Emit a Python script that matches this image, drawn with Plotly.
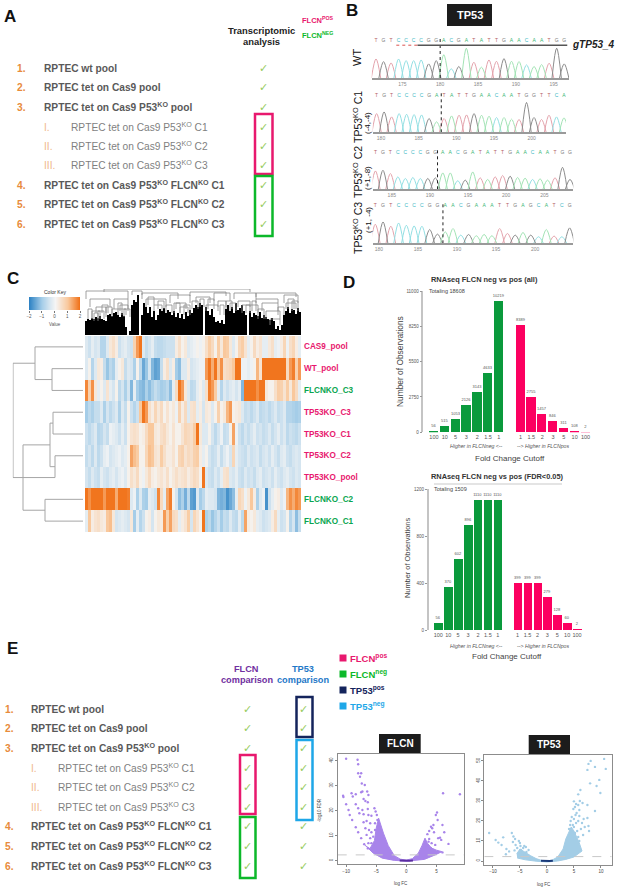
import numpy as np
import plotly.graph_objects as go

W, H = 617, 889
FONT = "Liberation Sans"
PINK = "#e8186e"
GREEN = "#0cb82a"
ORANGE = "#e88b3c"
GRAY = "#595959"
CHECK = "#96cb5e"

# ---- panel A / E sample lists
sample_marks = ["1.", "2.", "3.", "I.", "II.", "III.", "4.", "5.", "6."]
sample_names = ["RPTEC wt pool", "RPTEC tet on Cas9 pool", "RPTEC tet on Cas9 P53<sup>KO</sup> pool",
                "RPTEC tet on Cas9 P53<sup>KO</sup> C1", "RPTEC tet on Cas9 P53<sup>KO</sup> C2",
                "RPTEC tet on Cas9 P53<sup>KO</sup> C3", "RPTEC tet on Cas9 P53<sup>KO</sup> FLCN<sup>KO</sup> C1",
                "RPTEC tet on Cas9 P53<sup>KO</sup> FLCN<sup>KO</sup> C2", "RPTEC tet on Cas9 P53<sup>KO</sup> FLCN<sup>KO</sup> C3"]
a_rows = [68, 87, 107, 127, 146, 165, 185, 204, 224]
e_rows = [709, 728, 748, 768, 787, 807, 826, 846, 866]

# ---- panel B chromatograms: bases and peak heights
wt_bases = list("TGTCCCCGGACGATATTGAACAATGG")
wt_peaks = [58, 50, 46, 58, 53, 53, 55, 43, 53, 71, 28, 35, 91, 48, 33, 55, 51, 59, 51, 50, 40, 35, 41, 45, 91, 43]
c1_bases = list("TGTCCCCGATATTGAACAATGGTTCA")
c1_peaks = [57, 62, 47, 57, 55, 54, 53, 42, 32, 42, 50, 52, 53, 57, 52, 49, 45, 45, 40, 39, 91, 45, 39, 52, 47, 44]
c2_bases = list("TGTCCCCGGAACGATATTGAACAATGG")
c2_peaks = [56, 58, 48, 38, 33, 36, 33, 33, 35, 50, 50, 26, 28, 53, 35, 30, 38, 42, 40, 36, 34, 30, 32, 28, 35, 67, 30]
c3_bases = list("TGTCCCCGGAACGAAATTGAGCATCG")
c3_peaks = [58, 65, 52, 62, 55, 53, 52, 42, 28, 35, 45, 25, 27, 23, 27, 23, 45, 30, 25, 33, 25, 20, 42, 22, 20, 47]
base_line = {"T": "#e3a3ac", "C": "#93dfe3", "G": "#8c8c8c", "A": "#a3e3b5"}
base_text = {"T": "#b55f66", "C": "#3bb8c4", "G": "#777777", "A": "#3cb674"}

# ---- panel C heatmap (rows top to bottom, z score per gene block)
heat_rows = ["CAS9_pool", "WT_pool", "FLCNKO_C3", "TP53KO_C3", "TP53KO_C1", "TP53KO_C2", "TP53KO_pool", "FLCNKO_C2", "FLCNKO_C1"]
heat_colors = [PINK, PINK, "#0aa650", PINK, PINK, PINK, PINK, "#0aa650", "#0aa650"]
cas9_pool = [-.3, -.5, -.2, -.4, -.3, -.8, -.8, -.3, .3, .5, .2, -.5,
             -.3, -.2, -.4, -.5, .8, 1.5, 1.9, -.3, -.6, -.4, -.2, -.6,
             -.7, -.7, -.6, -.5, -.5, -.5, .2, .5, .1, .3, -.3, -.2,
             -.1, .1, -.1, .1, .5, .9, .6, .1, .9, .3, 1, .9,
             .3, -.3, .1, .7, .9, .4, -.2, .1, .6, .2, .4, -.2,
             -.2, .3, .5, -.2, -.1, .2, .7, -.1, .5, .7, .2, -.2]
wt_pool = [-.3, .1, -.8, -.3, .3, .2, -.6, -1.1, -.7, -.9, -.2, .1,
           .3, -.6, -.3, -.4, -.9, .1, -.7, -1.5, -1.1, -.4, -1.3, -1.6,
           -1.5, -.6, .2, .5, -.3, .2, -1, -1.2, -.3, -.3, .2, -.4,
           -.3, -.2, -.1, -.1, 1.5, 1.9, 1.3, 1.9, 1.0, 1.6, .5, .6,
           .7, 1.0, 1.9, 1.9, -.1, -.1, -.2, -.1, .1, 1.2, .4, 1.9,
           1.9, 1.9, 1.9, 1.9, 1.9, 1.9, 1.9, .6, 1.5, 1.8, .8, 1.5]
flcnko_c3 = [1.7, .8, 1.6, .3, -.2, .1, -.3, .4, -.2, -.4, .1, -.7,
             -.4, -.9, -.4, -1.3, -.2, -1.0, -1.2, -1.3, -.9, -1.2, -.9, -.6,
             -.8, -1, -.9, -.7, -1.2, -.2, .6, 1.9, 1.5, .3, -.3, -.7,
             -.6, -.2, .1, -.3, .5, 1.8, 1.5, .9, -.2, -.8, -.3, -.5,
             -.3, -.2, -.4, -.2, -1.3, 1.9, 1.9, 1.9, 1.9, 1.6, 1.9, 1.9,
             .3, .1, .1, .5, .9, .8, .4, .9, .3, 1.0, .6, -.2]
tp53ko_c3 = [-1, -.7, -.9, -.6, -.6, -.3, -.9, -.4, -.7, -.5, -.3, -.9,
             -.3, -.6, .1, -.5, -.8, -.5, 1.0, 1.9, 1.5, .5, .2, .7,
             .3, .6, .1, .4, .1, .3, -.1, .8, .2, .6, -.3, .4,
             .5, -.2, .2, -.4, .3, .2, -.3, .1, .8, .1, .3, 1.2,
             1.5, .1, .2, .3, -.3, -.6, -.5, -.7, -.5, -.3, -.7, -.6,
             -.5, -.7, -.5, -.3, -.6, -.5, -.3, -.8, -.8, -.9, -1, -.9]
tp53ko_c1 = [-.5, -.7, -.5, -.3, -.8, -.7, -.4, -.6, -.1, -.2, -.3, -.5,
             -.2, -.5, .1, .4, .5, .4, .1, .2, .6, 1.0, 1.0, .3,
             .2, .5, .6, .3, .1, .4, .1, .1, .4, .7, .6, .5,
             .9, 1.9, .3, -.3, -.3, .1, -.4, -.7, -.4, -.1, -.6, -.5,
             .1, 1.4, -.1, -.5, -.7, -.4, -.6, -.4, -.2, -.5, -.4, -.6,
             -.5, -.3, -.6, -.4, -.2, -.5, -.3, -.7, -.5, -.6, -.7, -.5]
tp53ko_c2 = [-.6, -.4, -.7, -.3, -.7, -.5, -.2, -.1, -.4, -.3, -.2, -.1,
             -.3, -.2, .1, 1.4, 1.1, .9, .1, .1, .7, 1.1, 1.0, .4,
             .3, .9, .5, .2, .2, .4, .1, .7, .8, .4, .6, .5,
             .8, .9, .2, -.2, .1, -.4, -.6, -.5, -.2, -.6, -.3, -.1,
             -.4, .7, -.2, -.4, -.5, -.6, -.3, -.5, -.4, -.3, -.6, -.4,
             -.3, -.5, -.2, -.4, -.6, -.3, -.2, -.5, -.6, -.4, -.3, -.4]
tp53ko_pool = [-.4, -.6, -.3, -.5, -.6, -.2, -.4, -.5, -.3, -.2, -.4, -.2,
               -.1, -.3, .1, .5, .3, .6, .1, -.1, .3, .6, .2, .1,
               .3, .4, .2, .5, .1, .3, .5, .3, .4, .5, .2, .4,
               .6, .5, .1, 1.9, -.3, -.5, -.6, -.3, -.5, -.2, .4, .5,
               -.3, -.4, -.2, -.5, -.6, -.3, -.5, -.4, -.6, -.3, -.2, -.5,
               -.4, -.3, -.5, -.2, -.4, -.5, -.3, -.2, -.4, -.5, -.3, -.4]
flcnko_c2 = [1.9, 1.6, 1.9, 1.9, 1.9, 1.9, 1.5, 1.9, 1.9, 1.9, 1.3, 1.9,
             1.9, 1.9, 1.8, -.3, -.1, -.9, -.3, -.9, -1, -.2, -.3, -.5,
             1.7, .6, -.2, 1.4, 1.8, .1, -.4, -1.2, -.9, -1.4, -.7, -1.6,
             -1.7, -.3, -1, -.7, -.2, -.3, -.3, -.4, -1.3, -1.4, -1.3, -1.8,
             -1.5, -1.2, -.2, .7, .5, -.1, .3, 1.0, .2, -.9, -.3, -.1,
             -1.8, -.5, -.2, .1, .2, -.3, -.1, 1.2, 1.6, 1.3, 1.7, 1.5]
flcnko_c1 = [-.2, 1.0, .2, .4, .5, .3, .2, 1.0, 1.1, .3, -.4, -.3,
             -.2, -.3, -.4, .3, -1.0, -.2, -.8, -.5, .1, .2, -.4, .1,
             .3, .2, 1.5, .8, 1.4, .6, .5, -.2, .2, .4, .9, -.4,
             .7, .4, .1, 1.9, -.9, -.7, -1.1, -.8, -.5, -1.0, -.6, -.7,
             -.3, -.6, -.7, -.2, -.7, 1.4, .2, .1, .3, -.2, -.3, -.5,
             -.4, -.3, .2, .6, -.2, -.5, -.4, .1, -.8, -.4, -1.2, -.6]
key_values = [-2, -1.6, -1.2, -.8, -.4, 0, .4, .8, 1.2, 1.6, 2]
heat_scale = [[0, "#2f83c4"], [.25, "#a5cde8"], [.5, "#f5f5f5"], [.75, "#f9c89c"], [1, "#f06c10"]]

# left dendrogram merges: upper row, lower row, height
row_top = [1, 0, 3, 5, 3.5, 7, 4.5, 0.75]
row_bot = [2, 1.5, 4, 6, 5.5, 8, 7.5, 6]
row_height = [31, 48, 30, 28, 33, 38, 60, 70]

# top dendrogram: height of the solid part per 2 px slot, then the open brackets
tree_solid = [14, 16, 15, 17, 16, 18, 17, 19, 16, 15, 14, 20, 21, 19, 22, 23, 20, 18, 22, 19, 8, 0, 4,
              30, 35, 33, 40, 0, 20, 32, 28, 22, 28, 18, 24, 15, 20, 26, 24, 27, 22, 25, 23,
              20, 24, 18, 22, 17, 21, 16, 23, 19, 25, 22, 27, 30, 28, 32, 30, 0, 28, 24, 20, 26, 18,
              13, 14, 12, 15, 11, 26, 30, 24, 28, 22, 32, 25, 27, 30, 24, 20, 0,
              24, 18, 22, 20, 19, 23, 17, 20, 18, 16, 15, 17, 14, 6, 9, 5, 10, 20, 24, 28, 22, 26, 25, 21, 27, 23]
br_left = [9, 0, 2, 14, 5, 13, 23, 28, 30, 42, 45, 52, 55, 64, 66, 74, 76, 85, 85, 88, 90, 92, 99, 100, 96, 78, 17, 34, 60, 3, 8, 47, 70,
           1, 4, 6, 10, 16, 19, 31, 36, 40, 44, 49, 53, 57, 61, 67, 72, 80, 83, 86, 101, 103]
br_right = [82, 21, 12, 21, 10, 20, 28, 46, 40, 52, 50, 70, 62, 72, 70, 85, 82, 105, 96, 96, 97, 97, 106, 105, 99, 86, 21, 38, 66, 7, 11, 51, 73,
            3, 6, 9, 13, 18, 22, 34, 39, 43, 47, 52, 56, 59, 64, 69, 75, 82, 85, 89, 104, 106]
br_height = [46, 44, 36, 36, 28, 26, 44, 42, 36, 40, 32, 43, 38, 42, 34, 42, 34, 42, 36, 32, 24, 16, 40, 32, 28, 30, 30, 30, 30, 24, 30, 28, 34,
             26, 22, 24, 28, 32, 26, 38, 34, 30, 32, 30, 34, 36, 36, 30, 32, 30, 34, 26, 36, 34]
br_drop = [3, 8, 8, 10, 6, 6, 4, 6, 8, 8, 6, 4, 6, 8, 6, 6, 6, 4, 4, 8, 8, 6, 8, 6, 8, 8, 6, 6, 6, 8, 8, 6, 8,
           10, 8, 8, 10, 12, 8, 8, 8, 8, 10, 10, 8, 8, 10, 10, 8, 8, 10, 10, 10, 10]

# ---- panel D bars
cutoffs = ["100", "10", "5", "3", "2", "1.5", "1", "1", "1.5", "2", "3", "5", "10", "100"]
bar_slots = [0, 1, 2, 3, 4, 5, 6, 8, 9, 10, 11, 12, 13, 14]
all_neg = [56, 515, 1053, 2126, 3143, 4633, 10219]
all_pos = [8389, 2755, 1457, 846, 311, 108, 2]
fdr_neg = [56, 370, 602, 896, 1110, 1110, 1110]
fdr_pos = [399, 399, 399, 279, 128, 60, 2]
all_ticks = [0, 2750, 5500, 8250, 11000]
fdr_ticks = [0, 400, 800, 1200]

# ---- panel E volcano plots, scattered points
flcn_fc = [-10, -8.1, -8, -8, -7.5, -7.7, -7.4, -6.9, -10.5, -10.45, -9.1, -8.9, -8.4, -7.5, -7.3, -6.5, -6.3, -7.1, -6.8, -6.4,
           -10, -8.4, -8, -7.3, -6.4, -7.8, -7.1, -9.6, -9.4, -9, -8.4, -8, -7.5, -7, -6.4, -6.3, -5.8, -5.3, -5.1, -4.9,
           -7.1, -6.6, -6, -5.2, -4.8, -6.8, -6.2, -5.8, -5.2, -4.6, -6.6, -6, -5.5, -4.9, -5.8, -5.2, -6.3,
           6.1, 8.9, 5.1, 4.9, 5.2, 4.5, 4.1, 4.3, 6, 3.8, 3.5, 6.3, 4.6, 5.3, 5.8, 5.6, 7, 3.7, 4.2, 4.8, 4.1, 3.4, 4.5, 6, 3.8]
flcn_fdr = [40.8, 40.4, 38.6, 35, 35, 33.6, 30.9, 30.3, 26, 25.5, 27, 25.7, 26.6, 27.4, 27.7, 27.7, 26.3, 24.7, 23.9, 23.4,
            22.6, 22.6, 21, 20.3, 20.7, 19, 18.6, 20.3, 18.3, 16.3, 13.4, 11.4, 9, 6.6, 4.9, 18.3, 18, 21, 19.7, 18.3,
            15.4, 15.9, 15, 15, 16.3, 13, 12.3, 11.4, 12.3, 13.6, 10.3, 9, 9.6, 8.3, 7, 6.3, 7,
            27, 26.6, 19.3, 18.3, 16.3, 14.3, 13.6, 13, 14.3, 11.9, 10.6, 11.4, 11.4, 9, 8.3, 9.2, 6.7, 7.6, 7, 6.3, 5, 5.6, 4.3, 3.3, 8.7]
# dense part of the cloud, outline
flcn_edge_x = [-7, -5.5, -4, -2, 0, 1.5, 3, 4.8, 5.9, 5, 4.2, 3.5, 3.1, 2.6, 2, 1, 0, -1, -2, -3, -3.8, -4.6, -5, -5.3, -6]
flcn_edge_y = [6.5, 3, 1, .1, -.2, .1, .5, 2.3, 3.6, 4.2, 5, 7, 9, 6, 3, .8, .2, .6, 2, 6, 11, 17, 13, 8, 5]
tp53_fc = [10.6, 8.1, 7.7, 7.5, 8.9, 10.9, 8, 9.7, 9.2, 9.9, 8.9, 6.2, 5.8, 5.8, 5.2, 6.6, 7.5, 6, 5.5, 6, 6.8, 7.5, 6.5, 7, 7.7, 7.8, 5.8, 5.4, 6.3, 5.6, 6.7, 5.8, 6, 5.2, 5, 4.9, 5.4, 6.1, 5,
           4.6, 4.4, 4.8, 4.3, 5, 5.3, 4.1,
           -10.7, -9.5, -9, -8.1, -8.4, -7.5, -7, -6.5, -6.2, -5.9, -5.8, -6.3, -5.2, -5, -4.9, -4.4, -4.8, -4.2, -3.9, -5.5, -6, -5.2, -3.8, -3.4, -4.6, -4.2, -7.6]
tp53_fdr = [51, 50, 48.5, 45.5, 47, 46, 38.8, 40.5, 37.5, 34, 25, 35.5, 33.3, 28, 27, 29, 28, 25.5, 24, 22.5, 21, 21.5, 19, 17, 17.5, 15, 20, 19, 16, 15, 13, 12, 10, 14, 21, 26, 28.5, 30, 29.8,
            22, 20, 18, 18, 17, 23, 16,
            14, 10.5, 9.2, 11.8, 8, 6, 4.8, 14, 12.2, 11, 8, 9.5, 10, 9, 7.5, 6.5, 5.5, 7.5, 7, 6.5, 5.3, 4, 4.5, 5.5, 3.5, 3, 3.4]
tp53_edge_x = [-5.5, -4, -2, 0, 2, 3.5, 5, 6.5, 6, 5, 4.5, 4, 3.5, 3, 2, 1, 0, -1, -2, -3, -4, -5, -5.6]
tp53_edge_y = [1.5, .6, -.1, -.5, 0, .8, 2, 5, 9, 15, 17, 14, 11, 6, 2, .5, 0, .3, 1.2, 2.6, 4.5, 6, 3.5]

fig = go.Figure()
axis_count = [1]
blank = dict(showgrid=False, zeroline=False, showticklabels=False, ticks="", showline=False, automargin=False)


def add_axes(left, top, right, bottom, xr, yr, xopts=None, yopts=None):
    n = axis_count[0] + 1
    axis_count[0] = n
    xa = dict(blank, domain=[left / W, right / W], range=xr, anchor=f"y{n}")
    ya = dict(blank, domain=[1 - bottom / H, 1 - top / H], range=yr, anchor=f"x{n}")
    xa.update(xopts or {})
    ya.update(yopts or {})
    fig.update_layout({f"xaxis{n}": xa, f"yaxis{n}": ya})
    return dict(xaxis=f"x{n}", yaxis=f"y{n}")


notes = []
shapes = []


def txt(x, y, s, size=9, color=GRAY, bold=False, anchor="left", angle=0, font=FONT, italic=False):
    if bold:
        s = f"<b>{s}</b>"
    if italic:
        s = f"<i>{s}</i>"
    notes.append(dict(x=x, y=y, xref="x", yref="y", text=s, showarrow=False, xanchor=anchor, yanchor="middle",
                      borderpad=0, borderwidth=0, textangle=angle, font=dict(size=size, color=color, family=font)))


def box(x0, y0, x1, y1, color, width=2.5, fill=None):
    shapes.append(dict(type="rect", xref="x", yref="y", x0=x0, y0=y0, x1=x1, y1=y1,
                       line=dict(color=color, width=width), fillcolor=fill or "rgba(0,0,0,0)"))


# page axes, used for the text and the boxes
fig.update_layout(xaxis=dict(blank, domain=[0, 1], range=[0, W]), yaxis=dict(blank, domain=[0, 1], range=[H, 0]))
legend_names = ["FLCN<sup>pos</sup>", "FLCN<sup>neg</sup>", "TP53<sup>pos</sup>", "TP53<sup>neg</sup>"]
legend_colors = [PINK, GREEN, "#14245c", "#1ea7e8"]
legend_rows = [658, 674, 690, 706]
fig.add_trace(go.Scatter(x=[343] * 4, y=legend_rows, mode="markers", xaxis="x", yaxis="y",
                         marker=dict(symbol="square", size=7, color=legend_colors)))
for name, c, y in zip(legend_names, legend_colors, legend_rows):
    txt(350, y, name, 9.5, c, True)


def sample_list(rows, num_x, name_x, sub_x, size):
    for i, (mark, name, y) in enumerate(zip(sample_marks, sample_names, rows)):
        sub = 3 <= i <= 5
        txt(name_x if sub else num_x, y, mark, size, "#f0b88c" if sub else ORANGE, not sub)
        txt(sub_x if sub else name_x, y, name, size, "#7f7f7f" if sub else GRAY, not sub)


# panel A
txt(4, 16, "A", 17, "#111111", True)
sample_list(a_rows, 17, 44, 71, 10.2)
txt(261, 30, "Transcriptomic", 9.4, "#222222", True, "center")
txt(261, 41, "analysis", 9.4, "#222222", True, "center")
txt(302, 20, "FLCN<sup>POS</sup>", 7.5, PINK, True)
txt(302, 35, "FLCN<sup>NEG</sup>", 7.5, GREEN, True)
for y in a_rows:
    txt(263, y, "\u2713", 11, CHECK, anchor="center", font="DejaVu Sans")
box(255, 114, 272.5, 174, PINK)
box(255, 176, 272.5, 236, GREEN)

# panel E lists
txt(7, 648, "E", 17, "#111111", True)
sample_list(e_rows, 4.5, 31, 58, 10.2)
txt(246.5, 669, "FLCN", 9.2, "#7030a0", True, "center")
txt(246.5, 680, "comparison", 9.2, "#7030a0", True, "center")
txt(303, 669, "TP53", 9.2, "#1f78c8", True, "center")
txt(303, 680, "comparison", 9.2, "#1f78c8", True, "center")
for y in e_rows:
    txt(247, y, "\u2713", 11, CHECK, anchor="center", font="DejaVu Sans")
    txt(303, y, "\u2713", 11, CHECK, anchor="center", font="DejaVu Sans")
box(240, 755, 255.5, 814, PINK)
box(240, 817, 255.5, 878, GREEN)
box(296.5, 697, 312.5, 737, "#14245c")
box(296.5, 740, 312.5, 820, "#1ea7e8")

# panel B
txt(346, 10, "B", 17, "#111111", True)
box(447, 4, 492, 26, "#1c1c1c", 0, "#1c1c1c")
txt(469.5, 15, "TP53", 11, "white", True, "center")
txt(572, 44, "gTP53_4", 10, "#222222", True, italic=True)
txt(357, 58, "WT", 11, "#111111", False, "center", -90)
txt(357, 117, "TP53<sup>KO</sup> C1", 10.5, "#111111", False, "center", -90)
txt(367, 123, "(-4,-4)", 8, "#111111", False, "center", -90)
txt(357, 172, "TP53<sup>KO</sup> C2", 10.5, "#111111", False, "center", -90)
txt(367, 178, "(+1,-8)", 8, "#111111", False, "center", -90)
txt(357, 228, "TP53<sup>KO</sup> C3", 10.5, "#111111", False, "center", -90)
txt(368, 220, "(+1, -4)", 8, "#111111", False, "center", -90)


def chromatogram(bases, peaks, start, step, left, right, base_y, xr, ticks, cut, letter_y):
    ax = add_axes(left, base_y - 41, right, base_y, xr, [0, 125],
                  dict(showline=True, linecolor="#9a9a9a", linewidth=1.5, showticklabels=True, tickvals=ticks,
                       tickfont=dict(size=5, color="#8a8a8a", family=FONT), ticklen=0))
    pos = start + np.arange(len(bases)) * step
    for b, col in base_line.items():
        xs, ys = [], []
        for p, h, bb in zip(pos, peaks, bases):
            if bb == b:
                xs += [p - step * 0.62, p, p + step * 0.62, None]
                ys += [0, h, 0, None]
        fig.add_trace(go.Scatter(x=xs, y=ys, mode="lines", line=dict(color=col, width=1, shape="spline", smoothing=1.0),
                                 **ax))
    fig.add_trace(go.Scatter(x=pos, y=[letter_y] * len(pos), mode="text", text=bases,
                             textfont=dict(size=5, family=FONT, color=[base_text[b] for b in bases]), **ax))
    fig.add_trace(go.Scatter(x=[cut, cut], y=[0, 125], mode="lines", line=dict(color="#222222", width=1, dash="dot"), **ax))
    return ax


wt_ax = chromatogram(wt_bases, wt_peaks, 171.52, 0.995, 371.7, 569, 78, [170.95, 197.03], [175, 180, 185, 190, 195], 180, 113)
chromatogram(c1_bases, c1_peaks, 179.42, 0.995, 372.7, 566, 132.3, [178.9, 204.56], [180, 185, 190, 195, 200], 188, 111)
chromatogram(c2_bases, c2_peaks, 182.86, 0.981, 372.7, 573.3, 189.3, [182.5, 208.8], [185, 190, 195, 200, 205], 191, 112)
chromatogram(c3_bases, c3_peaks, 179.53, 0.996, 372.7, 573.3, 243.3, [179.2, 204.9], [180, 185, 190, 195, 200], 188.2, 116)
fig.add_trace(go.Scatter(x=[177, 196.8], y=[100, 100], mode="lines", line=dict(color="#555555", width=1.5), **wt_ax))
fig.add_trace(go.Scatter(x=[174.2, 177], y=[100, 100], mode="lines", line=dict(color="#d9534f", width=1, dash="dot"), **wt_ax))

# panel C
txt(7, 278, "C", 17, "#111111", True)
heat_z = [cas9_pool, wt_pool, flcnko_c3, tp53ko_c3, tp53ko_c1, tp53ko_c2, tp53ko_pool, flcnko_c2, flcnko_c1]
ax = add_axes(85, 336, 301, 532, [-0.5, 71.5], [8.5, -0.5])
fig.add_trace(go.Heatmap(z=heat_z, zmin=-2, zmax=2, colorscale=heat_scale, showscale=False, **ax))
for i, (name, c) in enumerate(zip(heat_rows, heat_colors)):
    txt(304, 336 + 21.78 * (i + .5), name, 8.2, c, True)

ax = add_axes(29, 297, 80, 310, [-2, 2], [0, 1],
              dict(showticklabels=True, tickvals=[-2, -1, 0, 1, 2], tickfont=dict(size=4.5, color="#555555", family=FONT),
                   ticks="outside", ticklen=2, tickcolor="#777777"))
fig.add_trace(go.Heatmap(x=key_values, y=[0, 1], z=[key_values, key_values], zmin=-2, zmax=2, colorscale=heat_scale,
                         zsmooth="best", showscale=False, **ax))
txt(54.5, 292, "Color Key", 5, "#333333", False, "center")
txt(54.5, 324, "Value", 4.5, "#555555", False, "center")

ax = add_axes(12.7, 336, 83, 532, [70.3, 0], [8.5, -0.5])
xs, ys = [], []
child_h = {1.5: 31, 3.5: 30, 5.5: 28, 4.5: 33, 7.5: 38, .75: 48, 6: 60}
for t, b, h in zip(row_top, row_bot, row_height):
    xs += [child_h.get(t, 0), h, h, child_h.get(b, 0), None]
    ys += [t, t, b, b, None]
fig.add_trace(go.Scatter(x=xs, y=ys, mode="lines", line=dict(color="#a6a6a6", width=1), **ax))

ax = add_axes(85, 289, 301, 335, [-0.5, 107.5], [0, 46])
fig.add_trace(go.Bar(x=np.arange(len(tree_solid)), y=tree_solid, width=1, marker=dict(color="black", line=dict(width=0)), **ax))
xs, ys = [], []
for l, r, h, d in zip(br_left, br_right, br_height, br_drop):
    xs += [l, l, r, r, None]
    ys += [h - d, h, h, h - d, None]
fig.add_trace(go.Scatter(x=xs, y=ys, mode="lines", line=dict(color="#8a8a8a", width=0.8), **ax))

# panel D
txt(343, 282, "D", 17, "#111111", True)


def bar_panel(neg, pos, ticks, left, top, right, bottom, xr, ymax):
    ax = add_axes(left, top, right, bottom, xr, [0, ymax],
                  dict(showticklabels=True, tickvals=bar_slots, ticktext=cutoffs, ticklen=0, tickangle=0,
                       tickfont=dict(size=5.5, color="#555555", family=FONT)),
                  dict(showticklabels=True, tickvals=ticks, ticktext=[str(t) for t in ticks], ticks="outside", ticklen=2,
                       tickcolor="#999999", showline=True, linecolor="#c4c4c4", linewidth=1.5, tickangle=0,
                       tickfont=dict(size=4.5, color="#555555", family=FONT)))
    vals = neg + pos
    fig.add_trace(go.Bar(x=bar_slots, y=vals, width=0.85, text=[str(v) for v in vals], textposition="outside",
                         constraintext="none", cliponaxis=False,
                         textfont=dict(size=4, color="#555555", family=FONT),
                         marker=dict(color=["#0a9a3c"] * len(neg) + ["#fc0060"] * len(pos), line=dict(width=0)), **ax))


bar_panel(all_neg, all_pos, all_ticks, 423.3, 291, 592, 432.3, [-0.98, 14.6], 11000)
bar_panel(fdr_neg, fdr_pos, fdr_ticks, 428.7, 489, 585, 630, [-0.97, 14.8], 1200)
txt(484, 279, "RNAseq FLCN neg vs pos (all)", 7.4, "#333333", True, "center")
txt(429, 291, "Totaling 18608", 5.5, "#444444")
txt(400, 362, "Number of Observations", 8.4, "#444444", False, "center", -90)
txt(476, 446, "Higher in FLCNneg <--", 5.2, "#555555", False, "center", italic=True)
txt(543, 446, "--> Higher in FLCNpos", 5.2, "#555555", False, "center", italic=True)
txt(510, 458, "Fold Change Cutoff", 8, "#444444", False, "center")
txt(497, 476, "RNAseq FLCN neg vs pos (FDR<0.05)", 7.4, "#333333", True, "center")
shapes.append(dict(type="line", xref="x", yref="y", x0=434, x1=562, y0=484, y1=484, line=dict(color="#c9c9c9", width=1)))
txt(434, 489, "Totaling 1509", 5.5, "#444444")
txt(407, 558, "Number of Observations", 7.4, "#444444", False, "center", -90)
txt(476, 646, "Higher in FLCNneg <--", 5.2, "#555555", False, "center", italic=True)
txt(543, 646, "--> Higher in FLCNpos", 5.2, "#555555", False, "center", italic=True)
txt(507, 656, "Fold Change Cutoff", 8, "#444444", False, "center")


# volcano plots
def volcano(fc, fdr, edge_x, edge_y, left, top, right, bottom, xr, yr, xticks, yticks, cut, col, dark):
    ax = add_axes(left, top, right, bottom, xr, yr,
                  dict(showticklabels=True, tickvals=xticks, ticks="outside", ticklen=2, tickcolor="#888888",
                       tickfont=dict(size=4.5, color="#444444", family=FONT), mirror=True, showline=True,
                       linecolor="#8c8c8c", linewidth=1),
                  dict(showticklabels=True, tickvals=yticks, ticks="outside", ticklen=2, tickcolor="#888888",
                       tickangle=-90, tickfont=dict(size=4.5, color="#444444", family=FONT), mirror=True, showline=True,
                       linecolor="#8c8c8c", linewidth=1))
    fig.add_trace(go.Scatter(x=edge_x, y=edge_y, mode="lines", fill="toself", fillcolor=col,
                             line=dict(color=col, width=1), **ax))
    fig.add_trace(go.Scatter(x=fc, y=fdr, mode="markers", marker=dict(size=2.4, color=col, line=dict(width=0)), **ax))
    fig.add_trace(go.Scatter(x=[-1.1, -.5, 0, .5, 1.1], y=[.1, 0, -.1, 0, .1], mode="lines",
                             line=dict(color=dark, width=2), **ax))
    fig.add_trace(go.Scatter(x=xr, y=[cut, cut], mode="lines", line=dict(color="#c8c8c8", width=1, dash="dash"), **ax))


volcano(flcn_fc, flcn_fdr, flcn_edge_x, flcn_edge_y, 337.7, 754.3, 464.3, 864.3, [-11.4, 9.63], [-1.47, 42.6],
        [-10, -5, 0, 5], [0, 10, 20, 30, 40], 2.3, "#a884ea", "#5a2ca0")
volcano(tp53_fc, tp53_fdr, tp53_edge_x, tp53_edge_y, 484.3, 755.3, 611.7, 865, [-11.6, 12], [-2, 52.8],
        [-10, -5, 0, 5, 10], [0, 10, 20, 30, 40, 50], 2.2, "#a3cde6", "#1a3a7a")
box(379, 734, 420.7, 753, "#1c1c1c", 0, "#1c1c1c")
txt(400, 743.5, "FLCN", 10, "white", True, "center")
box(528.7, 735, 570, 754, "#1c1c1c", 0, "#1c1c1c")
txt(549.3, 744.5, "TP53", 10, "white", True, "center")
txt(400.5, 883, "log FC", 4.5, "#444444", False, "center")
txt(544, 884, "log FC", 4.5, "#444444", False, "center")
txt(319, 810, "-log10 FDR", 4.5, "#444444", False, "center", -90)

fig.update_layout(width=W, height=H, margin=dict(l=0, r=0, t=0, b=0), showlegend=False, annotations=notes, shapes=shapes,
                  plot_bgcolor="white", paper_bgcolor="white", bargap=0)
fig.write_html("out.html", post_script="document.body.style.margin='0';", config=dict(displayModeBar=False))
